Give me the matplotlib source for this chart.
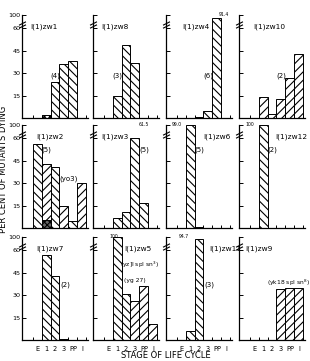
import numpy as np
import matplotlib
matplotlib.use("Agg")
import matplotlib.pyplot as plt

plt.rcParams['font.family'] = ['DejaVu Sans']
plt.rcParams['hatch.linewidth'] = 0.8
plt.rcParams['hatch.color'] = 'black'

# stages of the life cycle
stages = ['E', '1', '2', '3', 'PP', 'I']

# per cent of mutants dying at each stage
zw1 = [0, 2, 24, 36, 38, 0]
zw8 = [0, 15, 49, 37, 0, 0]
zw4 = [0, 0, 1, 5, 91.4, 0]
zw10 = [0, 14, 3, 13, 27, 43]
zw2 = [56, 43, 41, 15, 5, 30]
zw2_yo3 = [0, 5.5, 0, 0, 0, 0]
zw3 = [0, 7, 11, 61.5, 17, 0]
zw6 = [0, 99.0, 1, 0, 0, 0]
zw12 = [0, 100, 0, 0, 0, 0]
zw7 = [0, 57, 43, 1, 0, 0]
zw5 = [0, 100, 31, 26, 36, 11]
zw11 = [0, 6, 94.7, 0, 0, 0]
zw9 = [0, 0, 0, 34, 34.5, 35]

names = ['l(1)zw1', 'l(1)zw8', 'l(1)zw4', 'l(1)zw10',
         'l(1)zw2', 'l(1)zw3', 'l(1)zw6', 'l(1)zw12',
         'l(1)zw7', 'l(1)zw5', 'l(1)zw11', 'l(1)zw9']
values = [zw1, zw8, zw4, zw10, zw2, zw3, zw6, zw12, zw7, zw5, zw11, zw9]

B, F, X = '\\\\\\\\', '////', 'xxxxxx'
hatches = [
    [B, X, B, B, B, B], [B] * 6, [B, B, X, B, B, B], [F] * 6,
    [B, F, B, F, B, F], [B] * 6, [B, B, X, B, B, B], [B] * 6,
    [B] * 6, [B, B, B, F, F, F], [B] * 6, [F] * 6,
]
# name label x (axes fraction)
name_x = [0.12, 0.13, 0.25, 0.21, 0.22, 0.13, 0.56, 0.55, 0.22, 0.48, 0.65, 0.10]
# extra notes: (panel, x stage position, y value, text, size)
notes = [
    (0, 2, 28, '(4)', 5), (1, 1, 28, '(3)', 5), (2, 3, 28, '(6)', 5),
    (2, 4.75, 100, '91.4', 3.3), (3, 3, 28, '(2)', 5),
    (4, 1, 52, '(5)', 5), (4, 3.5, 33, '(yo3)', 5),
    (5, 4, 100, '61.5', 3.3), (5, 4, 52, '(5)', 5),
    (6, -0.5, 100, '99.0', 3.3), (6, 2, 52, '(5)', 5),
    (7, -0.5, 100, '100', 3.3), (7, 2, 52, '(2)', 5),
    (8, 3.1, 37, '(2)', 5),
    (9, 0.7, 100, '100', 3.3), (9, 3.5, 50, '(yz]l spl sn$^3$)', 4.3),
    (9, 3.0, 40, '(yg 27)', 4.3),
    (10, 0.3, 100, '94.7', 3.3), (10, 3.2, 37, '(3)', 5),
    (11, 3.8, 38, '(yk18 spl sn$^8$)', 4.3),
]

K = 0.217


def fwd(v):
    v = np.asarray(v, float)
    return np.where(v <= 60, v, 60 + (v - 60) * K)


def inv(u):
    u = np.asarray(u, float)
    return np.where(u <= 60, u, 60 + (u - 60) / K)


fig = plt.figure(figsize=(3.10, 3.61), dpi=100)
W, H = 310.0, 361.0
lefts = [22, 93, 166, 239]
rows = [(15, 118), (125, 228), (237, 340)]
xpos = np.arange(len(stages))

axes = []
for i in range(12):
    r, c = divmod(i, 4)
    top, bot = rows[r]
    ax = fig.add_axes([lefts[c] / W, (H - bot) / H, 66 / W, (bot - top) / H])
    ax.set_yscale('function', functions=(fwd, inv))
    ax.set_ylim(0, 100)
    ax.set_xlim(-1.67, 5.67)
    for s in ['top', 'right']:
        ax.spines[s].set_visible(False)
    for s in ['left', 'bottom']:
        ax.spines[s].set_linewidth(0.9)

    for j, v in enumerate(values[i]):
        if v > 0:
            ax.bar(xpos[j], v, width=1.0, color='white', edgecolor='black',
                   linewidth=0.7, hatch=hatches[i][j])
    if i == 4:
        for j, v in enumerate(zw2_yo3):
            if v > 0:
                ax.bar(xpos[j], v, width=1.0, color='#666666', edgecolor='black',
                       linewidth=0.7, hatch=X)

    ax.set_yticks([15, 30, 45, 60, 100])
    ax.tick_params(axis='y', direction='in', length=3, width=0.7, pad=1.2,
                   labelsize=4.6, labelleft=(c == 0))
    ax.set_xticks(np.arange(-0.5, 6, 1.0))
    ax.tick_params(axis='x', which='major', direction='in', length=2.5,
                   width=0.7, labelbottom=False)
    ax.set_xticks(xpos, minor=True)
    ax.set_xticklabels(stages, minor=True)
    ax.tick_params(axis='x', which='minor', length=0, pad=4, labelsize=4.8,
                   labelbottom=(r == 2))
    ax.yaxis.set_minor_locator(matplotlib.ticker.NullLocator())

    # axis break mark
    ax.plot([0, 0], [66, 74], transform=ax.get_yaxis_transform(), ls='none',
            marker=[(-1, -0.5), (1, 0.5)], ms=5, mew=0.8, color='black',
            clip_on=False)

    ax.text(name_x[i], 0.89, names[i], transform=ax.transAxes, fontsize=5.3,
            va='center', ha='left')
    axes.append(ax)

for p, xs, yv, t, sz in notes:
    axes[p].text(xs, yv, t, fontsize=sz, ha='center', va='center')

fig.text(0.535, 0.014, 'STAGE OF LIFE CYCLE', fontsize=6, ha='center', va='center')
fig.text(0.011, 0.53, 'PER CENT OF MUTANTS DYING', fontsize=6, rotation=90,
         ha='center', va='center')

fig.savefig('out.png', dpi=100)
